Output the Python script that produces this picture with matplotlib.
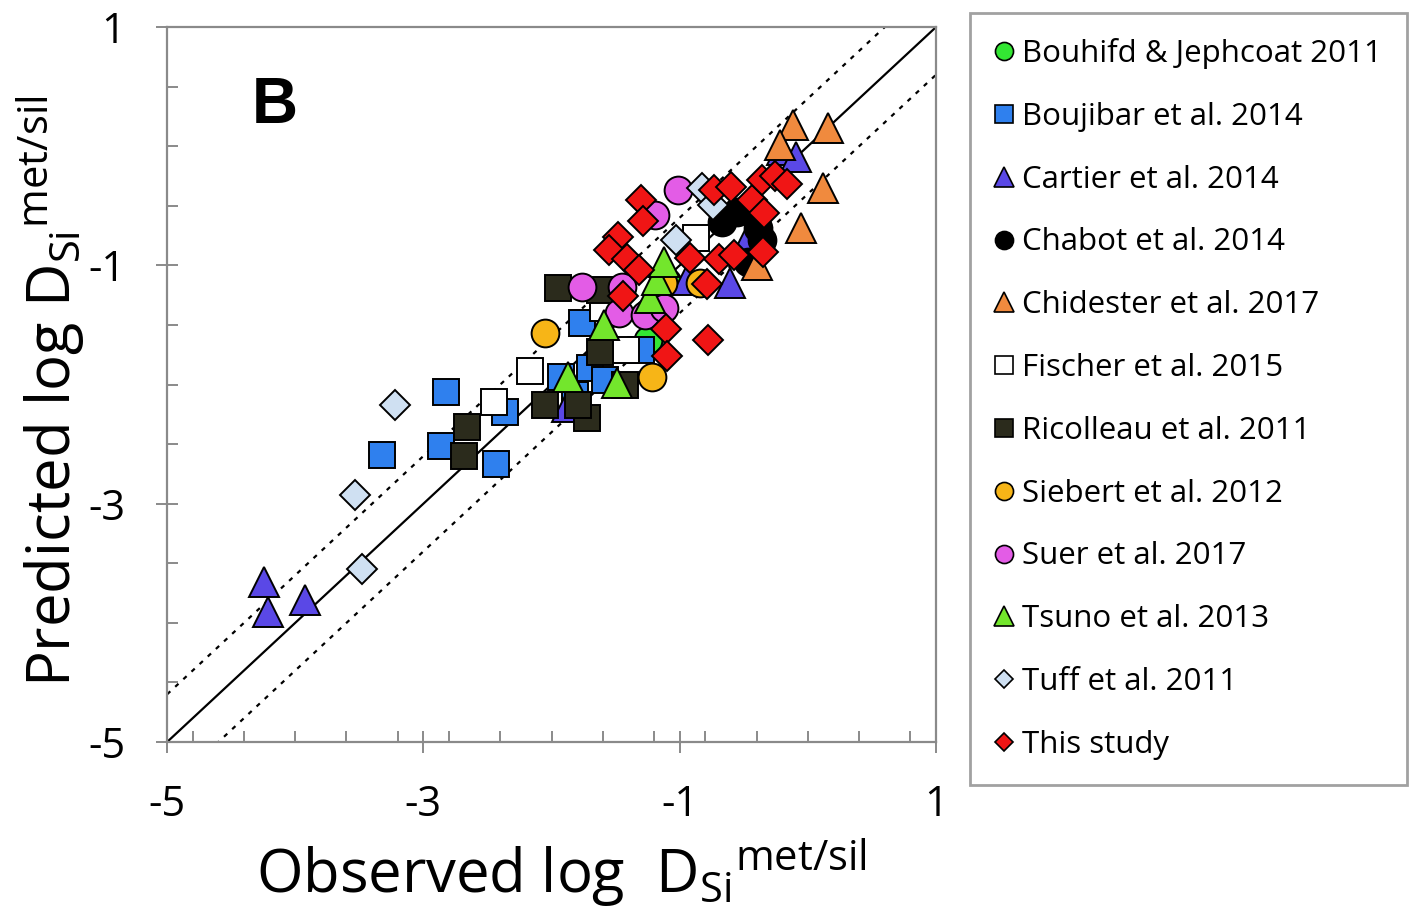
import matplotlib.pyplot as plt
from matplotlib.lines import Line2D
from matplotlib.ticker import FixedLocator, MultipleLocator

plt.rcParams['font.family'] = 'Open Sans'
plt.rcParams['mathtext.fontset'] = 'custom'
plt.rcParams['mathtext.rm'] = 'Open Sans'
plt.rcParams['mathtext.it'] = 'Open Sans:italic'
plt.rcParams['mathtext.bf'] = 'Open Sans:bold'

# observed vs predicted log D(Si) met/sil, one pair of lists per study
bouhifd_obs = [-1.10, -1.25]
bouhifd_pred = [-1.14, -1.63]

boujibar_obs = [-3.32, -2.82, -2.86, -2.43, -2.36, -1.76, -1.93, -1.70, -1.58, -1.30, -1.82]
boujibar_pred = [-2.59, -2.06, -2.52, -2.67, -2.23, -1.48, -1.94, -1.86, -1.96, -1.71, -2.09]

cartier_obs = [-4.24, -4.21, -3.92, -0.20, -0.09, -0.61, -0.48, -0.94, -1.88]
cartier_pred = [-3.66, -3.91, -3.81, -0.03, -0.09, -1.15, -0.81, -1.12, -2.19]

chabot_obs = [-0.55, -0.39, -0.67, -0.47, -0.36]
chabot_pred = [-0.55, -0.69, -0.64, -0.97, -0.79]

chidester_obs = [0.16, -0.12, -0.22, 0.12, -0.05, -0.40]
chidester_pred = [0.15, 0.18, 0.01, -0.35, -0.69, -1.00]

fischer_obs = [-0.87, -2.17, -2.45, -1.42, -1.60]
fischer_pred = [-0.77, -1.89, -2.15, -1.71, -1.36]

ricolleau_obs = [-1.95, -1.62, -2.66, -2.68, -2.05, -1.62, -1.72, -1.79, -1.43]
ricolleau_pred = [-1.19, -1.21, -2.36, -2.60, -2.17, -1.73, -2.28, -2.17, -2.00]

siebert_obs = [-2.05, -1.22, -0.84, -1.13]
siebert_pred = [-1.57, -1.94, -1.15, -1.15]

suer_obs = [-1.01, -1.19, -1.76, -1.45, -1.47, -1.27, -1.12]
suer_pred = [-0.37, -0.58, -1.18, -1.18, -1.40, -1.42, -1.36]

tsuno_obs = [-1.87, -1.49, -1.59, -1.23, -1.18, -1.12]
tsuno_pred = [-1.94, -1.99, -1.50, -1.27, -1.12, -0.97]

tuff_obs = [-3.22, -3.53, -3.48, -0.83, -0.74, -1.03]
tuff_pred = [-2.17, -2.93, -3.55, -0.35, -0.49, -0.79]

this_obs = [-1.30, -1.29, -1.48, -1.55, -1.41, -1.32, -1.44, -1.11, -1.10, -0.78, -0.92,
            -0.69, -0.58, -0.79, -0.35, -0.73, -0.60, -0.44, -0.34, -0.36, -0.26, -0.16]
this_pred = [-0.45, -0.63, -0.76, -0.87, -0.95, -1.04, -1.26, -1.53, -1.76, -1.63, -0.94,
             -0.95, -0.91, -1.16, -0.89, -0.37, -0.34, -0.45, -0.56, -0.28, -0.25, -0.32]

study_labels = ['Bouhifd & Jephcoat 2011', 'Boujibar et al. 2014', 'Cartier et al. 2014',
                'Chabot et al. 2014', 'Chidester et al. 2017', 'Fischer et al. 2015',
                'Ricolleau et al. 2011', 'Siebert et al. 2012', 'Suer et al. 2017',
                'Tsuno et al. 2013', 'Tuff et al. 2011', 'This study']

series = [
    (bouhifd_obs, bouhifd_pred, 'o', '#33e633', 20, 13),
    (boujibar_obs, boujibar_pred, 's', '#2f80ee', 19, 12.5),
    (cartier_obs, cartier_pred, '^', '#5a48e6', 21, 14),
    (chabot_obs, chabot_pred, 'o', '#000000', 20, 13),
    (chidester_obs, chidester_pred, '^', '#f08a3e', 21, 14),
    (fischer_obs, fischer_pred, 's', '#ffffff', 19, 12.5),
    (ricolleau_obs, ricolleau_pred, 's', '#2b2b1c', 19, 12.5),
    (siebert_obs, siebert_pred, 'o', '#f7b517', 20, 13),
    (suer_obs, suer_pred, 'o', '#e35ce6', 20, 13),
    (tsuno_obs, tsuno_pred, '^', '#73e62c', 21, 14),
    (tuff_obs, tuff_pred, 'D', '#cfe0f2', 15, 9.5),
    (this_obs, this_pred, 'D', '#f01515', 15, 9.5),
]

fig = plt.figure(figsize=(14.17, 9.07), dpi=100)
ax = fig.add_axes([0.1179, 0.1819, 0.5427, 0.7883])

# 1:1 line and +/- 0.4 log unit envelope
lim = [-5, 1]
ax.plot(lim, lim, color='black', lw=1.6, zorder=1)
ax.plot(lim, [v + 0.4 for v in lim], color='black', lw=1.6, ls=(0, (2, 3)), zorder=1)
ax.plot(lim, [v - 0.4 for v in lim], color='black', lw=1.6, ls=(0, (2, 3)), zorder=1)

handles = []
for i, (xs, ys, mk, col, ms, lms) in enumerate(series):
    ax.plot(xs, ys, ls='none', marker=mk, ms=ms, mfc=col, mec='black', mew=1.4, zorder=2 + i)
    handles.append(Line2D([], [], ls='none', marker=mk, ms=lms, mfc=col, mec='black', mew=1.2))

ax.set_xlim(-5, 1)
ax.set_ylim(-5, 1)
ax.xaxis.set_major_locator(FixedLocator([-5, -3, -1, 1]))
ax.yaxis.set_major_locator(FixedLocator([-5, -3, -1, 1]))
ax.xaxis.set_minor_locator(MultipleLocator(0.4))
ax.yaxis.set_minor_locator(MultipleLocator(0.5))
ax.set_xticklabels(['-5', '-3', '-1', '1'])
ax.set_yticklabels(['-5', '-3', '-1', '1'])

for s in ax.spines.values():
    s.set_color('#8a8a8a')
    s.set_linewidth(1.6)
ax.tick_params(which='major', direction='inout', length=16, width=1.4, color='#8a8a8a',
               labelsize=30, pad=22)
ax.tick_params(which='minor', direction='in', length=8, width=1.4, color='#8a8a8a')

ax.set_xlabel(r'Observed log  D$_{\mathrm{Si}}$$^{\mathrm{met/sil}}$', fontsize=43)
ax.xaxis.set_label_coords(0.513, -0.211, transform=ax.transAxes)
ax.xaxis.label.set_va('baseline')
ax.set_ylabel(r'Predicted log D$_{\mathrm{Si}}$$^{\mathrm{met/sil}}$', fontsize=43)
ax.yaxis.set_label_coords(-0.104, 0.49, transform=ax.transAxes)

ax.text(0.14, 0.89, 'B', transform=ax.transAxes, fontsize=46, fontweight='bold',
        family='Liberation Sans', ha='center', va='center')

leg = fig.legend(handles, study_labels, loc='upper left',
                 bbox_to_anchor=(970 / 1417, 1 - 13 / 907), fontsize=22.5,
                 frameon=True, fancybox=False, edgecolor='#8a8a8a', borderaxespad=0,
                 handlelength=0.55, handletextpad=0.32, labelspacing=1.05, borderpad=0.8)
leg.get_frame().set_linewidth(2)

fig.savefig('out.png', dpi=100, facecolor='white')
